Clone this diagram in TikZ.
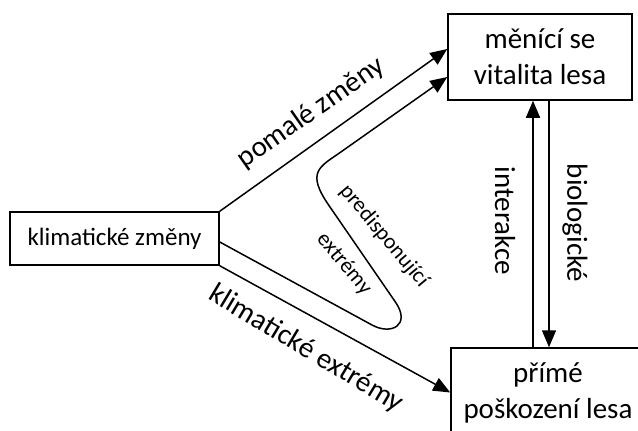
\documentclass[tikz,border=0pt]{standalone}
\usepackage{fontspec}
\setmainfont{Carlito}
\usetikzlibrary{arrows.meta,calc}
\tikzset{
  box/.style={draw, line width=1.5pt, inner sep=0pt, align=center, font=\fontsize{29}{36}\selectfont},
  conn/.style={line width=1.5pt, -{Triangle[length=17pt,width=14pt]}},
  plain/.style={line width=1.5pt},
  biglab/.style={font=\fontsize{29}{36}\selectfont, inner sep=0pt},
  smalllab/.style={font=\fontsize{22}{26}\selectfont, inner sep=0pt}
}
\begin{document}
\begin{tikzpicture}[x=1pt,y=-1pt]
\useasboundingbox (0,0) rectangle (638,431);
\clip (0,0) rectangle (638,431);
\fill[white] (0,0) rectangle (638,431);
% boxes
\node[box, minimum width=209pt, minimum height=53pt, font=\fontsize{25}{30}\selectfont] (L) at (114.5,238.5) {klimatické změny};
\node[box, minimum width=184pt, minimum height=86pt] (T) at (540,57) {měnící se\\vitalita lesa};
\node[box, minimum width=194pt, minimum height=89pt] (B) at (548,392.5) {přímé\\poškození lesa};
% connectors
\draw[conn] (L.north east) -- ($(T.west)+(0,-8)$);
\draw[conn] (L.south east) -- (B.west);
\draw[conn] ($(L.east)+(0,3.5)$) -- (372,325)
   .. controls (391.3,335.5) and (411.3,325.1) .. (395.4,302)
   -- (328.6,205)
   .. controls (306,172) and (319.5,166.95) .. (340,152.6)
   -- ($(T.west)+(0,20)$);
\draw[conn] ($(B.north)+(-15,0)$) -- ($(T.south)+(-7,0)$);
\draw[conn] ($(T.south)+(9,0)$) -- ($(B.north)+(1,0)$);
% labels
\node[biglab, rotate=35] (lp) at (311,113) {pomalé změny};
\node[biglab, rotate=-31] (lk) at (306,349) {klimatické extrémy};
\node[smalllab, rotate=-50] (lpr) at (384,236) {predisponující};
\node[smalllab, rotate=-50] (lex) at (344,264) {extrémy};
\node[biglab, rotate=-90] (li) at (505,221) {interakce};
\node[biglab, rotate=-90] (lb) at (575,223) {biologické};
\end{tikzpicture}
\end{document}
